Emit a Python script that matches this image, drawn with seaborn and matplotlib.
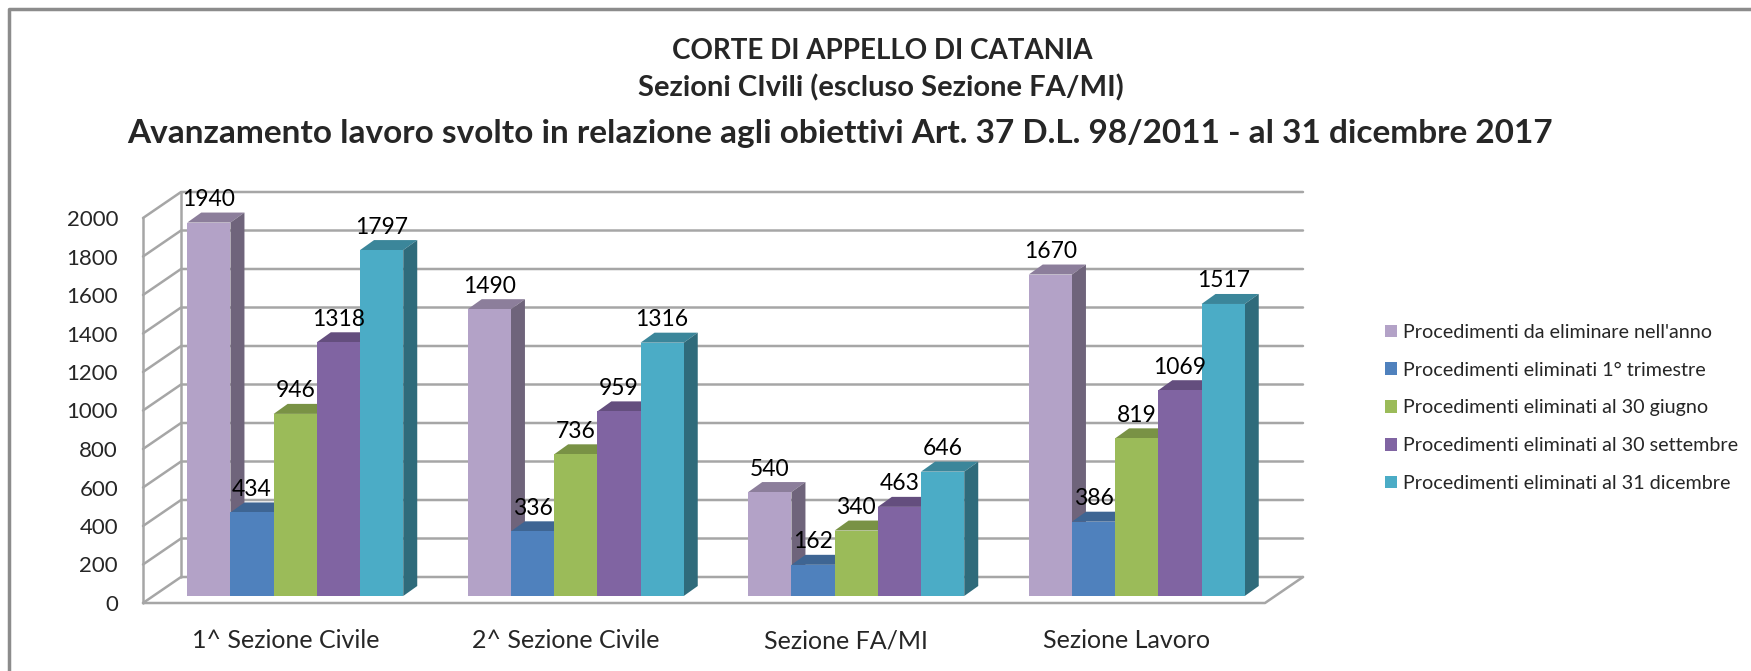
import matplotlib

matplotlib.use("Agg")

import matplotlib.pyplot as plt
import matplotlib.transforms as mtransforms
import pandas as pd
import seaborn as sns
from matplotlib.colors import to_rgb
from matplotlib.lines import Line2D
from matplotlib.patches import Polygon

TITLE_LINES = [
    "CORTE DI APPELLO DI CATANIA",
    "Sezioni CIvili (escluso Sezione FA/MI)",
    "Avanzamento lavoro svolto in relazione agli obiettivi Art. 37 D.L. 98/2011 - al 31 dicembre 2017",
]
SECTIONS = ["1^ Sezione Civile", "2^ Sezione Civile", "Sezione FA/MI", "Sezione Lavoro"]
SERIES = [
    "Procedimenti da eliminare nell'anno",
    "Procedimenti eliminati 1° trimestre",
    "Procedimenti eliminati al 30 giugno",
    "Procedimenti eliminati al 30 settembre",
    "Procedimenti eliminati al 31 dicembre",
]
DA_ELIMINARE = [1940, 1490, 540, 1670]
PRIMO_TRIMESTRE = [434, 336, 162, 386]
AL_30_GIUGNO = [946, 736, 340, 819]
AL_30_SETTEMBRE = [1318, 959, 463, 1069]
AL_31_DICEMBRE = [1797, 1316, 646, 1517]
COLORS = ["#B3A2C7", "#4F81BD", "#9BBB59", "#8064A2", "#4BACC6"]
Y_TICKS = list(range(0, 2001, 200))

W, H = 1751, 671
DEPTH = (14, 10)          # bar side/top depth in pixels
BACK = (26, 19)           # back wall offset from bar plane
FRONT = (-12, -7)         # front edge offset from bar plane
GRID = "#a6a6a6"

values = [DA_ELIMINARE, PRIMO_TRIMESTRE, AL_30_GIUGNO, AL_30_SETTEMBRE, AL_31_DICEMBRE]
df = pd.DataFrame(
    [(sec, ser, vals[i]) for ser, vals in zip(SERIES, values) for i, sec in enumerate(SECTIONS)],
    columns=["sezione", "serie", "valore"],
)

sns.set_style("white")
plt.rcParams["font.family"] = ["Lato", "DejaVu Sans"]

fig = plt.figure(figsize=(W / 100, H / 100), dpi=100)
ax = fig.add_axes([155 / W, 75 / H, 1122 / W, 385 / H])

sns.barplot(
    data=df, x="sezione", y="valore", hue="serie", order=SECTIONS, hue_order=SERIES,
    palette=COLORS, saturation=1, width=0.77, linewidth=0, ax=ax,
)
leg = ax.get_legend()
handles = leg.legend_handles
labels = [t.get_text() for t in leg.get_texts()]
leg.remove()

ax.set_xlim(-0.5, 3.5)
ax.set_ylim(0, 2000)
ax.set_axis_off()

ident = mtransforms.IdentityTransform()


def shade(color, f):
    return tuple(c * f for c in to_rgb(color))


def px(xd, v):
    return ax.transData.transform((xd, v))


# walls and floor
for v in Y_TICKS:
    p = px(-0.5, v)
    q = px(3.5, v)
    front = (p[0] + FRONT[0], p[1] + FRONT[1])
    back_l = (p[0] + BACK[0], p[1] + BACK[1])
    back_r = (q[0] + BACK[0], q[1] + BACK[1])
    ax.add_line(Line2D([front[0], back_l[0], back_r[0]], [front[1], back_l[1], back_r[1]],
                       color=GRID, lw=1.8, transform=ident, clip_on=False, zorder=0.5))

p0, p1 = px(-0.5, 0), px(-0.5, 2000)
q0 = px(3.5, 0)
ax.add_line(Line2D([p0[0] + FRONT[0], p1[0] + FRONT[0]], [p0[1] + FRONT[1], p1[1] + FRONT[1]],
                   color=GRID, lw=1.8, transform=ident, clip_on=False, zorder=0.5))
ax.add_line(Line2D([p0[0] + BACK[0], p1[0] + BACK[0]], [p0[1] + BACK[1], p1[1] + BACK[1]],
                   color=GRID, lw=1.8, transform=ident, clip_on=False, zorder=0.5))
ax.add_line(Line2D([p0[0] + FRONT[0], q0[0] + FRONT[0], q0[0] + BACK[0]],
                   [p0[1] + FRONT[1], q0[1] + FRONT[1], q0[1] + BACK[1]],
                   color=GRID, lw=1.8, transform=ident, clip_on=False, zorder=0.5))

# 3D bars: side and top faces built from seaborn's bars
dx, dy = DEPTH
for k, container in enumerate(ax.containers):
    color = COLORS[k]
    for bar in container:
        bar.set_zorder(3 + k)
        (x0, y0), (x1, y1) = ax.transData.transform(
            [(bar.get_x(), 0), (bar.get_x() + bar.get_width(), bar.get_height())]
        )
        top = [(x0, y1), (x1, y1), (x1 + dx, y1 + dy), (x0 + dx, y1 + dy)]
        side = [(x1, y0), (x1 + dx, y0 + dy), (x1 + dx, y1 + dy), (x1, y1)]
        ax.add_patch(Polygon(top, closed=True, facecolor=shade(color, 0.78), edgecolor="none",
                             transform=ident, clip_on=False, zorder=2.5 + k))
        ax.add_patch(Polygon(side, closed=True, facecolor=shade(color, 0.62), edgecolor="none",
                             transform=ident, clip_on=False, zorder=2.5 + k))
    texts = ax.bar_label(container, labels=[str(v) for v in values[k]], padding=9,
                         fontsize=16.5, color="black")
    for t in texts:
        t.set_zorder(20)

# axis labels
ylab_off = mtransforms.ScaledTranslation(-37 / 100, -9 / 100, fig.dpi_scale_trans)
for v in Y_TICKS:
    ax.text(0, v, str(v), transform=ax.get_yaxis_transform() + ylab_off,
            ha="right", va="center", fontsize=16, clip_on=False)
xlab_off = mtransforms.ScaledTranslation(-10 / 100, -45 / 100, fig.dpi_scale_trans)
for i, name in enumerate(SECTIONS):
    ax.text(i, 0, name, transform=ax.get_xaxis_transform() + xlab_off,
            ha="center", va="center", fontsize=18, clip_on=False)

# title
for (cx, cy), size, line in zip([(882, 51), (881, 88), (840, 133)], [20, 21, 24], TITLE_LINES):
    fig.text(cx / W, 1 - cy / H, line, ha="center", va="center", fontsize=size, fontweight="bold")

fig.legend(
    handles, labels, loc="upper left", bbox_to_anchor=(1385 / W, 1 - 324 / H),
    frameon=False, fontsize=14.2, handlelength=0.62, handleheight=0.62,
    handletextpad=0.28, labelspacing=1.05, borderpad=0, borderaxespad=0,
)

# outer frame
fig.add_artist(Line2D([9 / W, 9 / W, 1], [0, 1 - 9 / H, 1 - 9 / H],
                      color="#8c8c8c", lw=2.5, transform=fig.transFigure))

fig.savefig("out.png", dpi=100)
